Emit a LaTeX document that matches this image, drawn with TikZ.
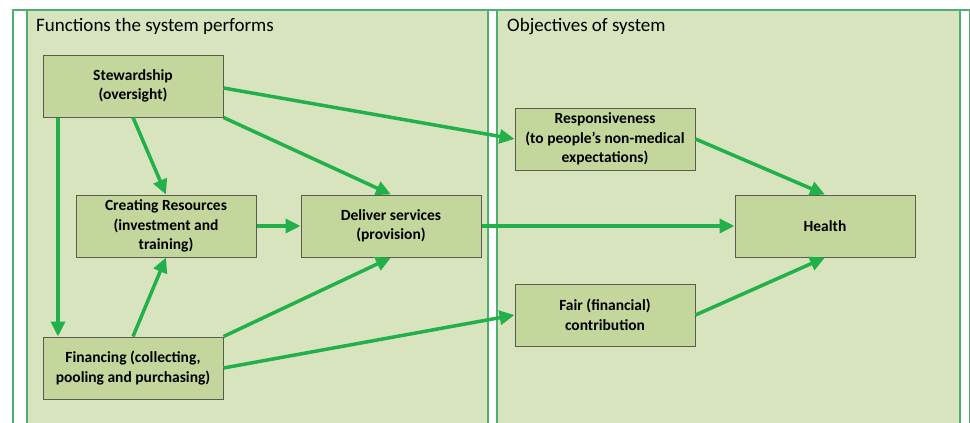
\documentclass[tikz,border=0pt]{standalone}
\usepackage{fontspec}
\setmainfont{Carlito}
\usetikzlibrary{arrows.meta}
\definecolor{panelfill}{HTML}{D7E4BD}
\definecolor{boxfill}{HTML}{C3D69B}
\definecolor{boxline}{HTML}{5A5A4E}
\definecolor{arrowc}{HTML}{22B04B}
\definecolor{framec}{HTML}{4FAE70}
\tikzset{
  x=1pt, y=-1pt,
  panel/.style={fill=panelfill, draw=framec, line width=1.2pt},
  fbox/.style={draw=boxline, fill=boxfill, line width=1pt, minimum width=180pt, minimum height=62pt,
    align=center, inner sep=2pt, font=\fontsize{15.5}{19.5}\selectfont\bfseries},
  flow/.style={draw=arrowc, line width=3.5pt, -{Triangle[length=15pt,width=14pt]}},
  ptitle/.style={anchor=base west, inner sep=0pt, font=\fontsize{19}{22}\selectfont}
}
\begin{document}
\begin{tikzpicture}
\useasboundingbox (0,0) rectangle (970,423);
\begin{scope}
\clip (0,0) rectangle (970,423);
\draw[framec, line width=1.5pt] (13,430) -- (13,10) -- (980,10);
\draw[panel] (27,10) rectangle (488,440);
\draw[panel] (497,10) rectangle (960,440);
\draw[framec, line width=1.2pt] (970,10) -- (970,440);
\end{scope}
\node[ptitle] (t1) at (36,31) {Functions the system performs};
\node[ptitle] (t2) at (507,31) {Objectives of system};

\node[fbox] (stew) at (133,86) {Stewardship\\(oversight)};
\node[fbox] (create) at (166,226) {Creating Resources\\(investment and\\training)};
\node[fbox] (deliver) at (391,226) {Deliver services\\(provision)};
\node[fbox] (fin) at (133,368) {Financing (collecting,\\pooling and purchasing)};
\node[fbox] (resp) at (605,139) {Responsiveness\\(to people’s non-medical\\expectations)};
\node[fbox] (fair) at (605,315) {Fair (financial)\\contribution};
\node[fbox] (health) at (825,226) {Health};

\coordinate (s1) at ([yshift=-2pt]stew.east);
\coordinate (s2) at ([xshift=-75pt]stew.south);
\coordinate (f2) at ([xshift=-75pt]fin.north);
\draw[flow] (s1) -- (resp.west);
\draw[flow] (stew.south east) -- (deliver.north);
\draw[flow] (stew.south) -- (create.north);
\draw[flow] (s2) -- (f2);
\draw[flow] (create.east) -- (deliver.west);
\draw[flow] (fin.north) -- (create.south);
\draw[flow] (fin.north east) -- (deliver.south);
\draw[flow] (fin.east) -- (fair.west);
\draw[flow] (deliver.east) -- (health.west);
\draw[flow] (resp.east) -- (health.north);
\draw[flow] (fair.east) -- (health.south);
\end{tikzpicture}
\end{document}
